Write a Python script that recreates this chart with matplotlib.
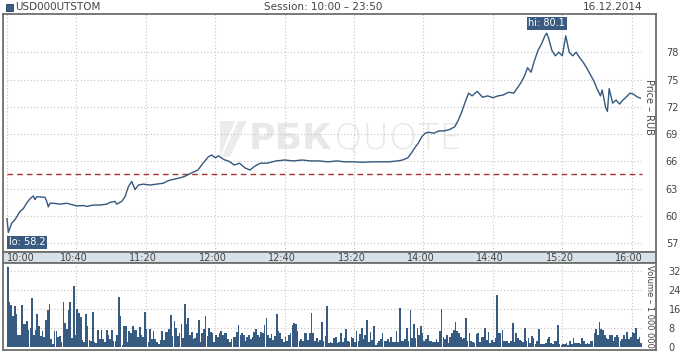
import matplotlib
matplotlib.use("Agg")
import matplotlib.pyplot as plt
from matplotlib.patches import Rectangle, Polygon
import numpy as np

# ---------------- data ----------------
title = "USD000UTSTOM"
session = "Session: 10:00 \u2013 23:50"
date_str = "16.12.2014"

# minutes after 10:00 and price (RUB)
price_min = [0, 0.8, 2.7, 4.6, 5.6, 7.5, 9.4, 11.3, 13.3, 15.2, 16.1, 17.1, 19, 21.9, 22.9, 23.8,
             24.8, 26.7, 30.5, 34.4, 36.3, 40.2, 44, 45.9, 49.8, 53.6, 57.5, 59.4, 62.2, 63.2,
             66.1, 68, 69.9, 71.9, 73.8, 75.7, 78.6, 82.4, 86.3, 90.1, 92, 94, 100, 103, 106,
             110, 113, 116, 118, 120, 122, 125, 128, 131, 134, 137, 140, 143, 146, 150, 155,
             160, 165, 170, 175, 180, 185, 190, 195, 200, 205, 210, 215, 220, 225, 228, 231,
             233, 235, 237, 239, 241, 243, 246, 249, 252, 255, 258, 260, 262, 264, 266, 268,
             271, 274, 277, 280, 283, 286, 289, 292, 294, 296, 298, 300, 302, 304, 306, 308,
             310, 311, 312, 314, 316, 318, 320, 322, 324, 326, 328, 330, 332, 334, 336, 338,
             340, 342, 343, 345, 346, 347, 349, 351, 353, 355, 357, 359, 361, 363, 365]
price_val = [59.7, 58.2, 59.2, 59.6, 59.9, 60.5, 60.8, 61.4, 61.9, 62.2, 61.8, 62.1, 62.1, 62.05,
             61.6, 61.0, 61.4, 61.4, 61.3, 61.4, 61.3, 61.1, 61.15, 61.05, 61.2, 61.2, 61.3,
             61.5, 61.6, 61.3, 61.6, 62.1, 63.2, 63.8, 62.9, 63.4, 63.5, 63.4, 63.5, 63.6, 63.8,
             63.95, 64.2, 64.4, 64.7, 65.05, 65.8, 66.5, 66.7, 66.4, 66.6, 66.2, 66.0, 65.6,
             65.8, 65.3, 65.05, 65.5, 65.8, 65.8, 66.05, 66.15, 66.05, 66.15, 66.05, 66.05,
             65.95, 66.05, 65.95, 65.95, 65.9, 65.95, 65.95, 65.95, 66.05, 66.15, 66.4, 66.9,
             67.5, 68.0, 68.7, 69.1, 69.2, 69.1, 69.35, 69.35, 69.5, 69.8, 70.5, 71.4, 72.5,
             73.5, 73.2, 73.7, 73.05, 73.2, 73.0, 73.2, 73.3, 73.6, 73.5, 74.05, 74.6, 75.3,
             76.3, 75.8, 77.1, 78.2, 78.9, 79.8, 80.1, 79.6, 78.2, 77.6, 78.0, 77.6, 79.8, 78.0,
             77.6, 78.0, 77.4, 76.9, 76.3, 75.6, 74.9, 74.0, 73.2, 73.85, 71.9, 71.5, 74.0, 72.4,
             72.75, 72.3, 72.75, 73.1, 73.5, 73.4, 73.1, 72.95]

avg_price = 64.57
hi_val, lo_val = 80.1, 58.2

# volume per minute (millions), minutes 0..365
volume = [33.5, 18.8, 17.6, 12.9, 17.0, 13.9, 4.8, 5.0, 17.6, 9.8,
          9.7, 11.0, 6.9, 7.8, 20.4, 5.0, 6.9, 13.7, 8.7, 4.5,
          6.7, 4.2, 11.3, 15.4, 18.2, 3.4, 1.3, 6.7, 6.7, 4.0,
          4.5, 2.0, 18.8, 10.0, 7.6, 15.4, 19.0, 3.6, 25.5, 4.8,
          16.0, 14.3, 12.5, 2.8, 2.0, 13.9, 8.7, 2.8, 2.2, 14.6,
          2.0, 1.7, 6.9, 3.4, 6.9, 3.4, 2.0, 6.9, 4.8, 3.4,
          6.9, 2.5, 2.2, 4.8, 21.0, 12.9, 0.6, 8.7, 8.8, 2.0,
          6.7, 5.9, 8.8, 6.9, 6.9, 4.1, 8.4, 4.8, 4.1, 14.8,
          7.6, 2.0, 7.6, 3.1, 6.7, 3.1, 2.0, 1.1, 3.0, 6.7,
          2.7, 6.2, 6.2, 7.6, 13.2, 4.5, 11.0, 7.8, 4.5, 6.0,
          9.5, 3.6, 18.2, 9.7, 12.3, 4.8, 6.2, 3.4, 3.6, 5.6,
          11.2, 2.0, 5.9, 7.6, 12.9, 4.5, 7.8, 6.4, 5.9, 2.0,
          5.0, 3.9, 5.9, 6.7, 5.0, 5.6, 5.6, 3.4, 2.0, 3.4,
          4.2, 4.2, 6.2, 9.2, 5.0, 5.6, 4.8, 2.5, 3.9, 4.8,
          3.1, 3.9, 6.2, 7.6, 5.0, 3.9, 6.2, 5.6, 9.0, 12.0,
          5.0, 3.6, 5.3, 2.8, 4.5, 13.7, 6.7, 5.6, 3.1, 2.0,
          3.9, 2.5, 5.0, 5.6, 9.2, 10.0, 9.5, 6.7, 2.2, 3.1,
          2.5, 5.9, 5.6, 2.8, 5.9, 14.3, 5.6, 2.5, 3.6, 2.0,
          3.0, 10.4, 2.2, 4.5, 17.1, 1.4, 2.0, 1.4, 3.6, 3.9,
          1.7, 2.0, 5.9, 2.0, 3.6, 7.3, 2.5, 2.0, 3.9, 3.6,
          2.0, 6.7, 2.5, 5.3, 7.8, 3.4, 4.8, 11.2, 2.0, 6.2,
          2.8, 8.7, 0.8, 1.7, 2.5, 3.1, 5.9, 2.5, 2.2, 3.1,
          2.0, 3.9, 2.0, 2.0, 6.7, 2.0, 16.2, 2.5, 2.2, 3.1,
          7.8, 2.5, 15.4, 3.6, 9.5, 3.6, 8.1, 5.0, 8.7, 5.6,
          2.2, 3.4, 4.8, 2.5, 2.2, 2.0, 2.0, 3.1, 2.0, 6.7,
          16.0, 4.0, 3.4, 4.8, 1.4, 3.9, 5.6, 7.0, 10.4, 6.7,
          5.6, 3.9, 3.1, 3.6, 12.0, 2.2, 5.6, 2.5, 2.0, 1.7,
          5.3, 5.9, 2.0, 3.9, 3.9, 8.1, 3.0, 6.2, 1.4, 2.8,
          2.0, 3.6, 21.8, 5.6, 5.9, 7.0, 2.2, 2.5, 2.2, 1.4,
          2.5, 10.0, 2.0, 5.6, 3.6, 2.8, 2.5, 2.0, 7.8, 2.2,
          3.6, 1.4, 4.5, 3.6, 1.1, 2.5, 7.6, 1.1, 1.1, 1.1,
          1.7, 3.4, 3.9, 1.4, 1.1, 2.5, 2.2, 9.0, 1.1, 0.8,
          1.1, 1.1, 1.7, 0.8, 2.5, 1.1, 3.6, 1.4, 1.4, 1.4,
          1.1, 3.6, 2.2, 1.1, 1.7, 1.1, 2.2, 2.5, 6.0, 7.3,
          5.0, 10.6, 7.3, 7.0, 5.0, 3.6, 3.4, 4.8, 4.8, 2.5,
          3.9, 4.8, 4.2, 2.5, 3.4, 4.8, 3.4, 6.2, 3.1, 3.9,
          6.2, 5.6, 7.8, 3.4, 3.9, 1.4]

time_ticks = [0, 40, 80, 120, 160, 200, 240, 280, 320, 360]
time_labels = ["10:00", "10:40", "11:20", "12:00", "12:40", "13:20", "14:00", "14:40", "15:20", "16:00"]
price_ticks = [57, 60, 63, 66, 69, 72, 75, 78]
vol_ticks = [0, 8, 16, 24, 32]

# ---------------- style ----------------
W, H = 680, 357
LINE = "#34587f"
FRAME = "#6e6e6e"
GRID = "#c4c4c4"
TXT = "#444444"
BAND = "#d8e0e8"
XMIN, XMAX = -2.3, 374.0
GEND = 366

fig = plt.figure(figsize=(W / 100, H / 100), dpi=100)
fig.patch.set_facecolor("white")


def px_axes(x0, y0, x1, y1):
    return fig.add_axes([x0 / W, 1 - y1 / H, (x1 - x0) / W, (y1 - y0) / H])


def frame(ax):
    for s in ax.spines.values():
        s.set_color(FRAME)
        s.set_linewidth(1.3)


# ---------- price panel ----------
ax = px_axes(3, 14, 656, 252)
frame(ax)
ax.set_xlim(XMIN, XMAX)
ax.set_ylim(56.04, 82.2)
ax.set_xticks([])
ax.yaxis.tick_right()
ax.set_yticks(price_ticks)
ax.tick_params(axis="y", length=0, pad=7, labelsize=7, labelcolor=TXT)
ax.hlines(price_ticks, 0, GEND, colors=GRID, linestyles=(0, (1, 2)), linewidth=0.8, zorder=1)
ax.vlines(time_ticks, 56.04, 82.2, colors=GRID, linestyles=(0, (1, 2)), linewidth=0.8, zorder=1)

# watermark
ax.add_patch(Polygon([[0.335, 0.40], [0.360, 0.55], [0.373, 0.55], [0.348, 0.40]],
                     closed=True, transform=ax.transAxes, facecolor="#ececec", edgecolor="none", zorder=0))
ax.add_patch(Polygon([[0.333, 0.40], [0.333, 0.55], [0.355, 0.55]],
                     closed=True, transform=ax.transAxes, facecolor="#ececec", edgecolor="none", zorder=0))
ax.text(0.376, 0.475, "РБК", transform=ax.transAxes, fontsize=26, fontweight="bold",
        color="#e8e8e8", ha="left", va="center", zorder=0)
ax.text(0.507, 0.475, "QUOTE", transform=ax.transAxes, fontsize=26, fontweight="light",
        color="#e8e8e8", ha="left", va="center", zorder=0)

ax.axhline(avg_price, xmin=(0 - XMIN) / (XMAX - XMIN), xmax=(GEND - XMIN) / (XMAX - XMIN),
           color="#a83232", linestyle=(0, (4, 3)), linewidth=1.0, zorder=2)
ax.plot(price_min, price_val, color=LINE, linewidth=1.0, zorder=3)

ax.text(311, hi_val + 0.55, f"hi: {hi_val}", fontsize=7, color="white", ha="center", va="bottom",
        bbox=dict(boxstyle="square,pad=0.15", facecolor="#3a5a80", edgecolor="none"), zorder=4)
ax.text(1.0, lo_val - 0.55, f"lo: {lo_val}", fontsize=7, color="white", ha="left", va="top",
        bbox=dict(boxstyle="square,pad=0.15", facecolor="#3a5a80", edgecolor="none"), zorder=4)

ax.text(0.99, 0.61, "Price \u2013 RUB", transform=ax.transAxes, rotation=-90, fontsize=7,
        color=TXT, ha="center", va="center")

# ---------- time band ----------
bx = px_axes(3, 252, 656, 263)
bx.set_facecolor(BAND)
frame(bx)
bx.set_xlim(XMIN, XMAX)
bx.set_ylim(0, 1)
bx.set_xticks([])
bx.set_yticks([])
for t, lab in zip(time_ticks, time_labels):
    if t == 0:
        bx.text(t, 0.45, lab, fontsize=7, color=TXT, ha="left", va="center")
    else:
        bx.text(t - 1.5, 0.45, lab, fontsize=7, color=TXT, ha="center", va="center")

# ---------- volume panel ----------
vx = px_axes(3, 263, 656, 350)
frame(vx)
vx.set_xlim(XMIN, XMAX)
vx.set_ylim(-1.4, 35.4)
vx.set_xticks([])
vx.yaxis.tick_right()
vx.set_yticks(vol_ticks)
vx.tick_params(axis="y", length=0, pad=9, labelsize=7, labelcolor=TXT)
vx.hlines(vol_ticks[1:], 0, GEND, colors=GRID, linestyles=(0, (1, 2)), linewidth=0.8, zorder=1)
vx.vlines(time_ticks, -1.4, 35.4, colors=GRID, linestyles=(0, (1, 2)), linewidth=0.8, zorder=1)
mins = np.arange(len(volume))
vx.bar(mins, volume, width=0.95, align="edge", color="#385b82", linewidth=0, zorder=2)
vx.text(0.99, 0.5, "Volume \u2013 1 000 000", transform=vx.transAxes, rotation=-90, fontsize=6,
        color=TXT, ha="center", va="center")

# ---------- header ----------
fig.patches.append(Rectangle((6 / W, 1 - 11 / H), 7 / W, 7 / H, transform=fig.transFigure,
                             facecolor="#3a5f8a", edgecolor="#22384f", linewidth=0.6))
fig.text(15 / W, 1 - 7.5 / H, title, fontsize=7.5, color=TXT, ha="left", va="center")
fig.text(323 / W, 1 - 7.5 / H, session, fontsize=7.5, color=TXT, ha="center", va="center")
fig.text(642 / W, 1 - 7.5 / H, date_str, fontsize=7.5, color=TXT, ha="right", va="center")

fig.savefig("out.png", dpi=100, facecolor="white")
